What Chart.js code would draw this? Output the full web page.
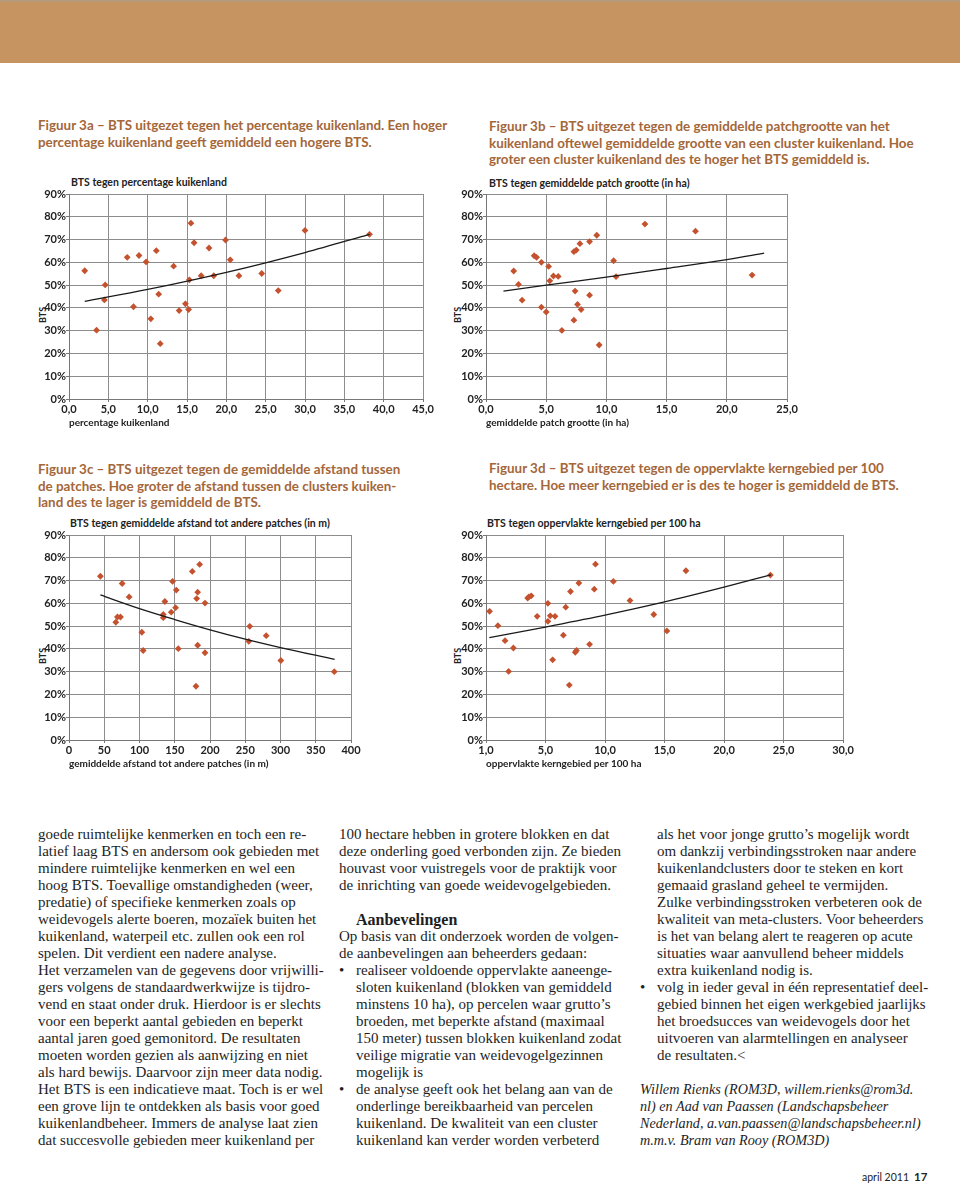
<!DOCTYPE html>
<html lang="nl">
<head>
<meta charset="UTF-8">
<title>Figuur 3 - BTS</title>
<script src="https://cdn.jsdelivr.net/npm/chart.js"></script>
<style>
  body { margin:0; width:960px; height:1183px; position:relative; background:#fff; overflow:hidden; }
  .band { position:absolute; left:0; top:0; width:960px; height:61px; background:#c69461; border-top:2px solid #b59a7c; }
  .cap { position:absolute; font:bold 13.4px Lato, sans-serif; color:#a4673a; line-height:16.5px; white-space:nowrap; }
  .ctitle { position:absolute; font:bold 10.5px Lato, sans-serif; color:#222; line-height:12px; white-space:nowrap; }
  .ylab { position:absolute; font:bold 9px Lato, sans-serif; color:#222; transform:translate(-50%,-50%) rotate(-90deg); }
  canvas { position:absolute; }
  .col { position:absolute; top:826px; font:15px "Liberation Serif", serif; line-height:17px; color:#1e1e1e; }
  .col div { white-space:nowrap; height:17px; }
  .ind { padding-left:17px; }
  .bul { position:relative; padding-left:17px; }
  .bul:before { content:"•"; position:absolute; left:0; }
  .head { font-weight:bold; font-size:16px; padding-left:17px; }
  .it { font-style:italic; font-size:14.2px; }
  .foot { position:absolute; left:862px; top:1170px; font:10.5px Lato, sans-serif; color:#222; }
  .foot b { font-size:11.5px; margin-left:5px; }
</style>
</head>
<body>
<div class="band"></div>

<div class="cap" style="left:38px; top:117px;">Figuur 3a – BTS uitgezet tegen het percentage kuikenland. Een hoger<br>percentage kuikenland geeft gemiddeld een hogere BTS.</div>
<div class="cap" style="left:489px; top:118px;">Figuur 3b – BTS uitgezet tegen de gemiddelde patchgrootte van het<br>kuikenland oftewel gemiddelde grootte van een cluster kuikenland. Hoe<br>groter een cluster kuikenland des te hoger het BTS gemiddeld is.</div>
<div class="cap" style="left:38px; top:461px;">Figuur 3c – BTS uitgezet tegen de gemiddelde afstand tussen<br>de patches. Hoe groter de afstand tussen de clusters kuiken-<br>land des te lager is gemiddeld de BTS.</div>
<div class="cap" style="left:489px; top:460px;">Figuur 3d – BTS uitgezet tegen de oppervlakte kerngebied per 100<br>hectare. Hoe meer kerngebied er is des te hoger is gemiddeld de BTS.</div>

<div class="ctitle" style="left:71px; top:176px;">BTS tegen percentage kuikenland</div>
<div class="ctitle" style="left:489px; top:177px;">BTS tegen gemiddelde patch grootte (in ha)</div>
<div class="ctitle" style="left:70px; top:517px;">BTS tegen gemiddelde afstand tot andere patches (in m)</div>
<div class="ctitle" style="left:487px; top:517px;">BTS tegen oppervlakte kerngebied per 100 ha</div>

<div class="ylab" style="left:42px; top:315px;">BTS</div>
<div class="ylab" style="left:457px; top:315px;">BTS</div>
<div class="ylab" style="left:42px; top:656px;">BTS</div>
<div class="ylab" style="left:457px; top:656px;">BTS</div>

<canvas id="c3a" width="413" height="248" style="left:30px; top:184px;"></canvas>
<canvas id="c3b" width="360" height="248" style="left:447px; top:184px;"></canvas>
<canvas id="c3c" width="341" height="248" style="left:30px; top:525px;"></canvas>
<canvas id="c3d" width="416" height="248" style="left:447px; top:525px;"></canvas>

<div class="col" style="left:38px;">
  <div>goede ruimtelijke kenmerken en toch een re-</div>
  <div>latief laag BTS en andersom ook gebieden met</div>
  <div>mindere ruimtelijke kenmerken en wel een</div>
  <div>hoog BTS. Toevallige omstandigheden (weer,</div>
  <div>predatie) of specifieke kenmerken zoals op</div>
  <div>weidevogels alerte boeren, mozaïek buiten het</div>
  <div>kuikenland, waterpeil etc. zullen ook een rol</div>
  <div>spelen. Dit verdient een nadere analyse.</div>
  <div>Het verzamelen van de gegevens door vrijwilli-</div>
  <div>gers volgens de standaardwerkwijze is tijdro-</div>
  <div>vend en staat onder druk. Hierdoor is er slechts</div>
  <div>voor een beperkt aantal gebieden en beperkt</div>
  <div>aantal jaren goed gemonitord. De resultaten</div>
  <div>moeten worden gezien als aanwijzing en niet</div>
  <div>als hard bewijs. Daarvoor zijn meer data nodig.</div>
  <div>Het BTS is een indicatieve maat. Toch is er wel</div>
  <div>een grove lijn te ontdekken als basis voor goed</div>
  <div>kuikenlandbeheer. Immers de analyse laat zien</div>
  <div>dat succesvolle gebieden meer kuikenland per</div>
</div>

<div class="col" style="left:339px;">
  <div>100 hectare hebben in grotere blokken en dat</div>
  <div>deze onderling goed verbonden zijn. Ze bieden</div>
  <div>houvast voor vuistregels voor de praktijk voor</div>
  <div>de inrichting van goede weidevogelgebieden.</div>
  <div></div>
  <div class="head">Aanbevelingen</div>
  <div>Op basis van dit onderzoek worden de volgen-</div>
  <div>de aanbevelingen aan beheerders gedaan:</div>
  <div class="bul">realiseer voldoende oppervlakte aaneenge-</div>
  <div class="ind">sloten kuikenland (blokken van gemiddeld</div>
  <div class="ind">minstens 10 ha), op percelen waar grutto’s</div>
  <div class="ind">broeden, met beperkte afstand (maximaal</div>
  <div class="ind">150 meter) tussen blokken kuikenland zodat</div>
  <div class="ind">veilige migratie van weidevogelgezinnen</div>
  <div class="ind">mogelijk is</div>
  <div class="bul">de analyse geeft ook het belang aan van de</div>
  <div class="ind">onderlinge bereikbaarheid van percelen</div>
  <div class="ind">kuikenland. De kwaliteit van een cluster</div>
  <div class="ind">kuikenland kan verder worden verbeterd</div>
</div>

<div class="col" style="left:640px;">
  <div class="ind">als het voor jonge grutto’s mogelijk wordt</div>
  <div class="ind">om dankzij verbindingsstroken naar andere</div>
  <div class="ind">kuikenlandclusters door te steken en kort</div>
  <div class="ind">gemaaid grasland geheel te vermijden.</div>
  <div class="ind">Zulke verbindingsstroken verbeteren ook de</div>
  <div class="ind">kwaliteit van meta-clusters. Voor beheerders</div>
  <div class="ind">is het van belang alert te reageren op acute</div>
  <div class="ind">situaties waar aanvullend beheer middels</div>
  <div class="ind">extra kuikenland nodig is.</div>
  <div class="bul">volg in ieder geval in één representatief deel-</div>
  <div class="ind">gebied binnen het eigen werkgebied jaarlijks</div>
  <div class="ind">het broedsucces van weidevogels door het</div>
  <div class="ind">uitvoeren van alarmtellingen en analyseer</div>
  <div class="ind">de resultaten.&lt;</div>
  <div></div>
  <div class="it">Willem Rienks (ROM3D, willem.rienks@rom3d.</div>
  <div class="it">nl) en Aad van Paassen (Landschapsbeheer</div>
  <div class="it">Nederland, a.van.paassen@landschapsbeheer.nl)</div>
  <div class="it">m.m.v. Bram van Rooy (ROM3D)</div>
</div>

<div class="foot">april 2011<b>17</b></div>

<script>
  // y-as is voor alle vier de figuren gelijk
  const yLabels = ['0%', '10%', '20%', '30%', '40%', '50%', '60%', '70%', '80%', '90%'];

  // figuur 3a: percentage kuikenland
  const xLabelsA = ['0,0', '5,0', '10,0', '15,0', '20,0', '25,0', '30,0', '35,0', '40,0', '45,0'];
  const kuikenPct = [2.0, 3.5, 4.6, 4.5, 7.4, 8.2, 8.9, 9.8, 10.4, 11.1, 11.4, 11.6, 13.3, 14.0, 14.8, 15.2, 15.3, 15.5, 15.9, 16.8, 17.8, 18.4, 19.9, 20.5, 21.6, 24.5, 26.6, 30.0, 38.2];
  const btsA = [56.3, 30.2, 50.1, 43.5, 62.2, 40.5, 63.0, 60.2, 35.2, 65.1, 46.0, 24.3, 58.3, 38.8, 41.8, 39.3, 52.3, 77.2, 68.6, 54.1, 66.3, 54.1, 69.8, 61.1, 54.1, 55.1, 47.6, 74.0, 72.3];
  const trendAX = [2.0, 10, 20, 30, 38.2];
  const trendAY = [42.9, 48.1, 55.6, 64.3, 72.3];

  // figuur 3b: gemiddelde patch grootte (ha)
  const xLabelsB = ['0,0', '5,0', '10,0', '15,0', '20,0', '25,0'];
  const patchHa = [2.3, 2.7, 3.0, 4.0, 4.2, 4.6, 4.6, 5.0, 5.2, 5.3, 5.6, 6.0, 6.3, 7.3, 7.4, 7.3, 7.5, 7.6, 7.8, 7.9, 8.6, 8.6, 9.2, 9.4, 10.6, 10.8, 13.2, 17.4, 22.1];
  const btsB = [56.2, 50.3, 43.4, 62.9, 62.2, 40.3, 60.0, 38.2, 58.2, 51.9, 54.0, 53.8, 30.1, 64.7, 47.4, 34.6, 65.4, 41.5, 68.2, 39.3, 69.1, 45.6, 71.9, 23.7, 60.7, 53.7, 76.8, 73.7, 54.4];
  const trendBX = [1.45, 5, 10, 15, 20, 23.1];
  const trendBY = [47.4, 50.0, 53.5, 57.3, 61.2, 64.0];

  // figuur 3c: gemiddelde afstand tot andere patches (m)
  const xLabelsC = ['0', '50', '100', '150', '200', '250', '300', '350', '400'];
  const afstandM = [44.5, 66.4, 68.7, 73.0, 75.4, 85.3, 103.3, 105.2, 133.7, 133.7, 136.0, 145.0, 146.9, 151.2, 152.2, 155.0, 174.9, 180.1, 181.1, 182.5, 182.5, 185.3, 192.9, 192.9, 255.0, 256.4, 279.7, 300.5, 376.3];
  const btsC = [71.9, 51.7, 54.0, 54.0, 68.7, 62.8, 47.3, 39.3, 53.7, 55.1, 60.8, 56.1, 69.6, 58.1, 65.8, 40.1, 74.0, 23.6, 62.1, 64.9, 41.6, 77.1, 60.1, 38.3, 43.3, 49.9, 45.8, 34.9, 30.0];
  const trendCX = [44.5, 100, 150, 200, 250, 300, 376.8];
  const trendCY = [63.7, 57.7, 52.9, 48.4, 44.3, 40.6, 35.4];

  // figuur 3d: oppervlakte kerngebied per 100 ha
  const xLabelsD = ['1,0', '5,0', '10,0', '15,0', '20,0', '25,0', '30,0'];
  const kernHa = [0.3, 1.0, 1.6, 1.9, 2.3, 3.5, 3.6, 3.8, 4.3, 5.2, 5.2, 5.4, 5.6, 5.8, 6.7, 6.5, 7.0, 7.1, 7.5, 7.6, 7.8, 8.7, 9.1, 9.2, 10.7, 12.1, 14.1, 15.2, 16.8, 23.9];
  const btsD = [56.5, 50.2, 43.6, 30.1, 40.4, 62.3, 62.8, 63.3, 54.3, 52.1, 60.0, 54.5, 35.2, 54.3, 58.3, 46.0, 24.1, 65.2, 38.5, 39.3, 68.9, 42.0, 66.2, 77.2, 69.6, 61.2, 55.1, 47.9, 74.3, 72.4];
  const trendDX = [0.28, 5, 10, 15, 20, 23.94];
  const trendDY = [44.9, 49.6, 54.8, 60.6, 67.1, 72.5];

  function zip(xs, ys) {
    return xs.map((x, i) => ({ x: x, y: ys[i] }));
  }

  const tickFont = { family: 'Lato', size: 11, weight: 'bold' };
  const gridLine = { color: '#8d8d8d', lineWidth: 1, tickLength: 3, tickColor: '#777' };

  function maakGrafiek(id, xs, ys, tx, ty, xMax, xStep, xLabels, xTitel) {
    return new Chart(document.getElementById(id), {
      type: 'scatter',
      data: {
        datasets: [
          {
            data: zip(tx, ty),
            showLine: true,
            borderColor: '#1a1a1a',
            borderWidth: 1.3,
            pointRadius: 0,
            cubicInterpolationMode: 'monotone'
          },
          {
            data: zip(xs, ys),
            pointStyle: 'rectRot',
            pointRadius: 3.4,
            backgroundColor: '#c4522e',
            borderWidth: 0
          }
        ]
      },
      options: {
        responsive: false,
        animation: false,
        layout: { padding: { left: 0, top: 10, right: 20, bottom: 0 } },
        plugins: { legend: { display: false }, tooltip: { enabled: false } },
        scales: {
          x: {
            type: 'linear', min: 0, max: xMax,
            ticks: { stepSize: xStep, autoSkip: false, maxRotation: 0, padding: 1, color: '#222', font: tickFont,
                     callback: (v, i) => xLabels[i] },
            grid: gridLine,
            border: { color: '#777', width: 1 },
            title: { display: true, text: xTitel, align: 'start', color: '#222',
                     font: { family: 'Lato', size: 10, weight: 'bold' }, padding: { top: 0, bottom: 3 } },
            afterFit: s => { s.height = 33; }
          },
          y: {
            min: 0, max: 90,
            ticks: { stepSize: 10, padding: 0, color: '#222', font: tickFont,
                     callback: (v, i) => yLabels[i] },
            grid: gridLine,
            border: { color: '#777', width: 1 },
            afterFit: s => { s.width = 39; }
          }
        }
      }
    });
  }

  maakGrafiek('c3a', kuikenPct, btsA, trendAX, trendAY, 45, 5, xLabelsA, 'percentage kuikenland');
  maakGrafiek('c3b', patchHa, btsB, trendBX, trendBY, 25, 5, xLabelsB, 'gemiddelde patch grootte (in ha)');
  maakGrafiek('c3c', afstandM, btsC, trendCX, trendCY, 400, 50, xLabelsC, 'gemiddelde afstand tot andere patches (in m)');
  maakGrafiek('c3d', kernHa, btsD, trendDX, trendDY, 30, 5, xLabelsD, 'oppervlakte kerngebied per 100 ha');
</script>
</body>
</html>
